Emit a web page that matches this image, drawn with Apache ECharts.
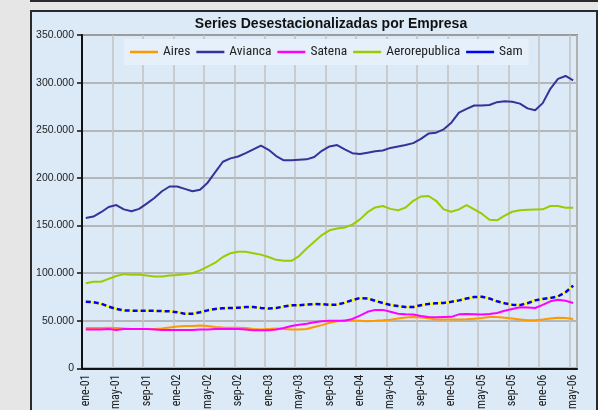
<!DOCTYPE html>
<html>
<head>
<meta charset="utf-8">
<script src="https://cdn.jsdelivr.net/npm/echarts@6/dist/echarts.min.js"></script>
<style>
  html, body { margin: 0; padding: 0; }
  body { width: 598px; height: 410px; background: #e6e6e6; position: relative; overflow: hidden; }
  #topline { position: absolute; left: 30px; top: 0; width: 568px; height: 2px; background: #2a2a2a; }
  #chart { position: absolute; left: 30px; top: 10px; width: 564px; height: 400px;
           border: 2px solid #2a2a2a; background: #dce9f6; }
</style>
</head>
<body>
<div id="topline"></div>
<div id="chart"></div>
<script>
// meses ene-01 .. may-06
const monthNames = ['ene', 'feb', 'mar', 'abr', 'may', 'jun', 'jul', 'ago', 'sep', 'oct', 'nov', 'dic']
const years = ['01', '02', '03', '04', '05', '06']
const categories = []
years.forEach(y => {
  monthNames.forEach((m, i) => {
    if (y === '06' && i > 4) return
    categories.push(m + '-' + y)
  })
})

const aires = [
  42500, 42500, 42500, 42700, 42500, 42000, 41500, 41500, 41500, 41500,
  42000, 43000, 44000, 44500, 44500, 45000, 44500, 43500, 43000, 42700,
  42700, 42500, 41500, 41000, 41500, 42000, 41500, 41000, 41000, 41500,
  43500, 45500, 48000, 49500, 50300, 50300, 50000, 49700, 50000, 50500,
  51200, 52500, 53500, 54000, 53500, 52700, 51500, 51400, 51400, 51400,
  51600, 52300, 53000, 54000, 54000, 53300, 52500, 51500, 50500, 50500,
  51400, 52500, 53300, 53000, 52000
]
const avianca = [
  158000, 159500, 164000, 169500, 171500, 167000, 165000, 167500, 173000, 179000,
  186000, 191000, 191000, 188500, 186000, 187500, 195000, 206000, 217000, 220500,
  222500, 226000, 230000, 234000, 229500, 223000, 218500, 218500, 219000, 219500,
  222000, 228500, 233000, 234500, 230000, 226000, 225000, 226500, 228000, 228800,
  231500, 233000, 234500, 236500, 241000, 246500, 247500, 251000, 258000, 268500,
  272500, 276000, 276000, 276500, 279500, 280500, 280000, 278000, 273000, 271000,
  278500, 293500, 304000, 307000, 302500
]
const satena = [
  41000, 41000, 41000, 41500, 40500, 41500, 41500, 41500, 41500, 41000,
  40500, 40500, 40500, 40500, 40500, 41000, 41000, 41500, 41500, 41500,
  41500, 41000, 40000, 40000, 40000, 41000, 42500, 44500, 45800, 47000,
  48500, 49500, 50000, 50000, 50200, 52000, 55500, 59500, 61500, 61500,
  59500, 57500, 57000, 56600, 55000, 54000, 53800, 54000, 54200, 56800,
  57200, 57000, 56700, 57300, 58300, 60500, 62500, 64200, 64000, 63500,
  66700, 70500, 72200, 71000, 68800
]
const aerorepublica = [
  89500, 91000, 91000, 94000, 97000, 99000, 98500, 98500, 97500, 96500,
  96500, 97500, 98000, 99000, 100000, 103000, 107000, 111000, 117000, 121000,
  122500, 122500, 121000, 119500, 117000, 114000, 113000, 113000, 118000, 126000,
  133000, 140000, 145000, 147000, 148000, 151000, 156500, 164000, 169000, 170500,
  167500, 166000, 169000, 176000, 180500, 181000, 176000, 167000, 164500, 167000,
  171500, 167000, 162500, 156000, 155500, 160500, 164500, 166000, 166500, 166800,
  167000, 170500, 170500, 168800, 168800
]
const sam = [
  70000, 69500, 68000, 65000, 62500, 61000, 60700, 60500, 60500, 60500,
  60200, 60000, 59000, 57500, 57500, 59000, 61000, 62500, 63200, 63500,
  63800, 64500, 64500, 63500, 63000, 63500, 65000, 66400, 66400, 67000,
  67700, 67500, 66700, 67000, 69000, 71800, 74000, 73500, 71000, 68700,
  66700, 65500, 64500, 64500, 66400, 67800, 68500, 68800, 70000, 71500,
  73500, 75000, 75300, 73500, 70500, 68500, 67000, 66500, 68500, 71500,
  73000, 74000, 75700, 80000, 87000
]
const yTicks = [0, 50000, 100000, 150000, 200000, 250000, 300000, 350000]

const narrow = "'Liberation Sans Narrow', 'Arial Narrow', 'Roboto Condensed', sans-serif"

function fmtMiles(v) {
  return String(v).replace(/\B(?=(\d{3})+(?!\d))/g, '.')
}

const chart = echarts.init(document.getElementById('chart'))

function line(name, data, color, extra) {
  return Object.assign({
    name: name,
    type: 'line',
    data: data,
    symbol: 'none',
    lineStyle: { color: color, width: 2 },
    itemStyle: { color: color },
    animation: false
  }, extra || {})
}

chart.setOption({
  backgroundColor: 'transparent',
  animation: false,
  title: {
    text: 'Series Desestacionalizadas por Empresa',
    left: 299,
    top: 5,
    padding: 0,
    textAlign: 'center',
    textStyle: {
      fontFamily: "'Liberation Sans', Arial, sans-serif",
      fontSize: 14,
      fontWeight: 'bold',
      color: '#111'
    }
  },
  legend: {
    data: ['Aires', 'Avianca', 'Satena', 'Aerorepublica', 'Sam'],
    left: 92,
    top: 27,
    padding: [5, 6],
    itemGap: 6,
    itemWidth: 28,
    itemHeight: 2.5,
    icon: 'rect',
    backgroundColor: '#e6f0fa',
    textStyle: { fontFamily: narrow, fontSize: 13.5, color: '#222', lineHeight: 16 }
  },
  grid: {
    left: 50,
    top: 23,
    width: 495,
    height: 336,
    show: true,
    borderColor: '#808080',
    borderWidth: 2,
    backgroundColor: 'transparent'
  },
  xAxis: {
    type: 'category',
    data: categories,
    boundaryGap: true,
    axisLine: { lineStyle: { color: '#111', width: 2 } },
    axisTick: { interval: 3, length: 5, lineStyle: { color: '#111', width: 1.5 } },
    axisLabel: {
      interval: 3,
      rotate: 90,
      margin: 6,
      fontFamily: narrow,
      fontSize: 12,
      color: '#222'
    },
    splitLine: { show: true, interval: 3, lineStyle: { color: '#c2c2c2', width: 1.5 } }
  },
  yAxis: {
    type: 'value',
    min: 0,
    max: 350000,
    interval: 50000,
    axisLine: { show: true, lineStyle: { color: '#111', width: 2 } },
    axisTick: { show: true, length: 5, lineStyle: { color: '#111', width: 1.5 } },
    axisLabel: {
      margin: 8,
      fontFamily: "'Liberation Sans', Arial, sans-serif",
      fontSize: 10.5,
      color: '#222',
      formatter: v => (yTicks.indexOf(v) >= 0 ? fmtMiles(v) : '')
    },
    splitLine: { show: true, lineStyle: { color: '#a6a6a6', width: 1.5 } }
  },
  series: [
    line('Aires', aires, '#ff9900'),
    line('Avianca', avianca, '#333399'),
    line('Satena', satena, '#ff00ff'),
    line('Aerorepublica', aerorepublica, '#99cc00'),
    // base amarilla bajo la línea discontinua de Sam
    line('SamBase', sam, '#ffff00', { lineStyle: { color: '#ffff00', width: 2.5 }, silent: true }),
    line('Sam', sam, '#0000ff', {
      lineStyle: { color: '#0000ff', width: 2.5, type: [5, 3] }
    })
  ]
})
</script>
</body>
</html>
